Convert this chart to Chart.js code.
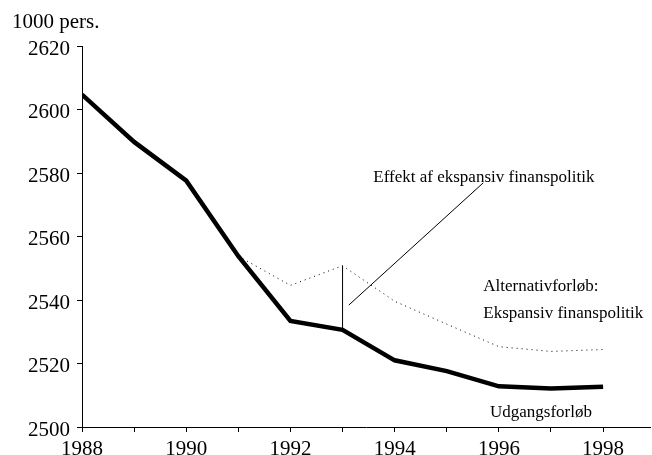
<!DOCTYPE html>
<html>
<head>
<meta charset="utf-8">
<script src="https://cdn.jsdelivr.net/npm/chart.js@4/dist/chart.umd.min.js"></script>
<style>
  html, body { margin: 0; padding: 0; background: #fff; }
  #wrap { width: 652px; height: 455px; position: relative; }
</style>
</head>
<body>
<div id="wrap"><canvas id="c"></canvas></div>
<script>
// ---- Data ----
const years = [1988, 1989, 1990, 1991, 1992, 1993, 1994, 1995, 1996, 1997, 1998];
const baseline = [2604.7, 2589.8, 2577.6, 2553.8, 2533.4, 2530.6, 2521.0, 2517.6, 2512.8, 2512.1, 2512.7];
const altYears = [1991, 1992, 1993, 1994, 1995, 1996, 1997, 1998];
const alternative = [2553.8, 2544.6, 2550.8, 2539.6, 2532.4, 2525.3, 2523.8, 2524.4];
const effectYear = 1993;
const leaderFrom = [1993.12, 2538.4];
const leaderTo = [1995.70, 2576.9];
const yTicks = [2500, 2520, 2540, 2560, 2580, 2600, 2620];
const xLabels = [1988, 1990, 1992, 1994, 1996, 1998];
const unitLabel = '1000 pers.';
const labels = [
  { text: 'Effekt af ekspansiv finanspolitik', x: 1993.59, y: 2578.7 },
  { text: 'Alternativforløb:', x: 1995.70, y: 2544.1 },
  { text: 'Ekspansiv finanspolitik', x: 1995.70, y: 2535.6 },
  { text: 'Udgangsforløb', x: 1995.83, y: 2504.7 }
];

const SERIF = '"Liberation Serif", "Times New Roman", serif';

const textPlugin = {
  id: 'texts',
  afterDatasetsDraw(chart) {
    const ctx = chart.ctx;
    const xs = chart.scales.x, ys = chart.scales.y;
    ctx.save();
    ctx.fillStyle = '#000';
    ctx.textBaseline = 'middle';
    ctx.textAlign = 'left';
    ctx.font = '17px ' + SERIF;
    labels.forEach(l => {
      ctx.fillText(l.text, xs.getPixelForValue(l.x), ys.getPixelForValue(l.y));
    });
    ctx.font = '21px ' + SERIF;
    ctx.fillText(unitLabel, 12, 22);
    // y tick labels (slightly lowered, as in the reference)
    ctx.textAlign = 'right';
    yTicks.forEach(v => {
      ctx.fillText(String(v), ys.left + ys.width - 12, ys.getPixelForValue(v) + 3);
    });
    ctx.restore();
  }
};

new Chart(document.getElementById('c'), {
  type: 'line',
  data: {
    datasets: [
      {
        label: 'Udgangsforløb',
        data: years.map((y, i) => ({ x: y, y: baseline[i] })),
        borderColor: '#000',
        borderWidth: 4.5,
        pointRadius: 0,
        tension: 0,
        borderJoinStyle: 'miter'
      },
      {
        label: 'Alternativforløb',
        data: altYears.map((y, i) => ({ x: y, y: alternative[i] })),
        borderColor: '#000',
        borderWidth: 1,
        borderDash: [1, 4],
        pointRadius: 0,
        tension: 0
      },
      {
        label: 'Effekt',
        data: [
          { x: effectYear, y: baseline[years.indexOf(effectYear)] },
          { x: effectYear, y: alternative[altYears.indexOf(effectYear)] }
        ],
        borderColor: '#000',
        borderWidth: 1,
        pointRadius: 0
      },
      {
        label: 'Leader',
        data: [
          { x: leaderFrom[0], y: leaderFrom[1] },
          { x: leaderTo[0], y: leaderTo[1] }
        ],
        borderColor: '#000',
        borderWidth: 1,
        pointRadius: 0
      }
    ]
  },
  options: {
    responsive: true,
    maintainAspectRatio: false,
    animation: false,
    devicePixelRatio: 1,
    layout: { padding: { top: 46, right: 2, left: 0, bottom: 0 } },
    plugins: {
      legend: { display: false },
      tooltip: { enabled: false }
    },
    scales: {
      x: {
        type: 'linear',
        min: 1988,
        max: 1998.9,
        afterBuildTicks(scale) {
          scale.ticks = years.map(v => ({ value: v }));
        },
        afterFit(scale) { scale.height = 28; },
        border: { display: true, color: '#000', width: 1 },
        grid: { drawOnChartArea: false, drawTicks: true, tickLength: 5, tickColor: '#000', tickWidth: 1 },
        ticks: {
          color: '#000',
          font: { family: SERIF, size: 21 },
          padding: 5,
          maxRotation: 0,
          autoSkip: false,
          callback: v => xLabels.includes(v) ? String(v) : ''
        }
      },
      y: {
        min: 2500,
        max: 2620,
        afterBuildTicks(scale) {
          scale.ticks = yTicks.map(v => ({ value: v }));
        },
        afterFit(scale) { scale.width = 82; },
        border: { display: true, color: '#000', width: 1 },
        grid: { drawOnChartArea: false, drawTicks: true, tickLength: 5, tickColor: '#000', tickWidth: 1 },
        ticks: {
          color: 'rgba(0,0,0,0)',
          font: { family: SERIF, size: 21 },
          padding: 7,
          callback: v => String(v)
        }
      }
    }
  },
  plugins: [textPlugin]
});
</script>
</body>
</html>
